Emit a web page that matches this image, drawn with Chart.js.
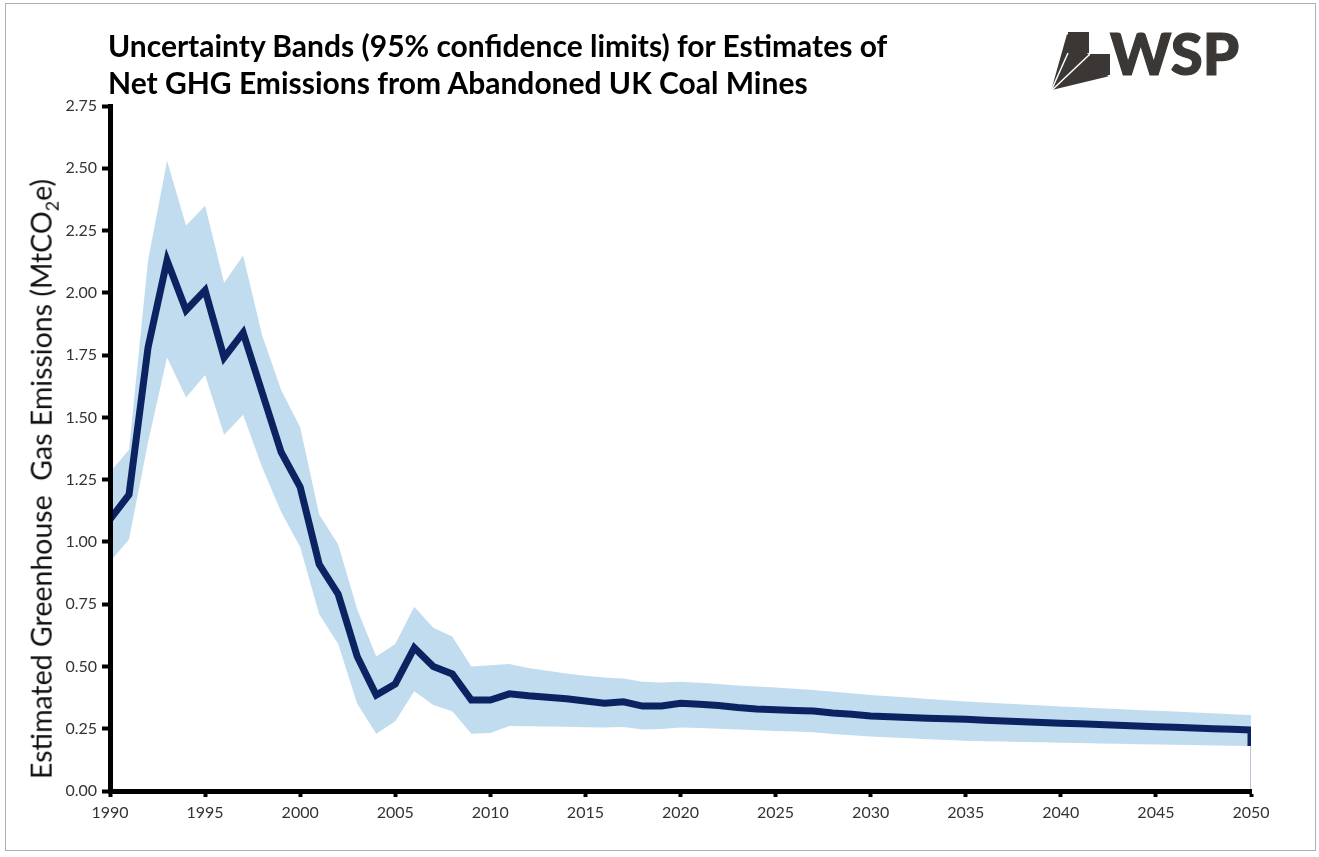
<!DOCTYPE html>
<html>
<head>
<meta charset="utf-8">
<script src="https://cdn.jsdelivr.net/npm/chart.js@4"></script>
<style>
  body { margin: 0; background: #fff; }
  #wrap { position: relative; width: 1319px; height: 857px; overflow: hidden; }
  #frame { position: absolute; left: 5px; top: 3px; width: 1311px; height: 848px; border: 1px solid #b0b0b0; box-sizing: border-box; }
  #titulo { position: absolute; left: 108px; top: 27px; font-family: Lato, sans-serif; font-weight: bold; font-size: 30px; line-height: 37px; color: #000; white-space: nowrap; }
  #ytitulo { position: absolute; left: 43px; top: 479px; font-family: Lato, sans-serif; font-size: 28.5px; color: #111; white-space: nowrap; transform: translate(-50%, -50%) rotate(-90deg); }
  #ytitulo sub { font-size: 18px; }
  #logo { position: absolute; left: 1045px; top: 25px; }
  canvas { position: absolute; left: 0; top: 0; }
</style>
</head>
<body>
<div id="wrap">
  <div id="frame"></div>
  <canvas id="grafico" width="1319" height="857"></canvas>
  <div id="titulo">Uncertainty Bands (95% confidence limits) for Estimates of<br>Net GHG Emissions from Abandoned UK Coal Mines</div>
  <div id="ytitulo">Estimated Greenhouse&nbsp; Gas Emissions (MtCO<sub>2</sub>e)</div>
  <svg id="logo" width="200" height="70" viewBox="0 0 200 70">
    <polygon points="22,9 44,30 64,52 6,66" fill="#3b3735"/>
    <line x1="6" y1="66" x2="44" y2="30" stroke="#fff" stroke-width="1.5"/>
    <line x1="6" y1="66" x2="64" y2="52" stroke="#fff" stroke-width="1.5"/>
    <line x1="6" y1="66" x2="23" y2="28" stroke="#fff" stroke-width="1.5"/>
    <rect x="23" y="7" width="21" height="21" fill="#3b3735"/>
    <rect x="45" y="29" width="20" height="21" fill="#3b3735"/>
    <text x="65" y="50" font-family="Lato, sans-serif" font-weight="900" font-size="58" fill="#3b3735" stroke="#3b3735" stroke-width="1.2">WSP</text>
  </svg>
</div>
<script>
const anos = [];
for (let a = 1990; a <= 2050; a++) anos.push(a);

const central = [1.09, 1.19, 1.78, 2.13, 1.93, 2.01, 1.74, 1.84, 1.60, 1.36,
  1.22, 0.91, 0.79, 0.54, 0.385, 0.43, 0.575, 0.50, 0.47, 0.365,
  0.365, 0.39, 0.382, 0.376, 0.37, 0.361, 0.352, 0.358, 0.341, 0.341,
  0.352, 0.348, 0.343, 0.335, 0.329, 0.326, 0.323, 0.321, 0.313, 0.308,
  0.301, 0.298, 0.295, 0.292, 0.290, 0.288, 0.284, 0.281, 0.278, 0.275,
  0.272, 0.270, 0.267, 0.264, 0.261, 0.258, 0.256, 0.253, 0.250, 0.248,
  0.245];

const superior = [1.28, 1.37, 2.13, 2.53, 2.27, 2.35, 2.04, 2.15, 1.83, 1.61,
  1.46, 1.11, 0.99, 0.73, 0.54, 0.59, 0.74, 0.655, 0.62, 0.50,
  0.505, 0.51, 0.494, 0.483, 0.472, 0.463, 0.456, 0.452, 0.439, 0.436,
  0.439, 0.435, 0.430, 0.424, 0.420, 0.416, 0.410, 0.405, 0.398, 0.392,
  0.385, 0.380, 0.375, 0.369, 0.364, 0.359, 0.355, 0.351, 0.347, 0.343,
  0.339, 0.336, 0.332, 0.329, 0.325, 0.322, 0.319, 0.315, 0.312, 0.308,
  0.305];

const inferior = [0.92, 1.01, 1.40, 1.74, 1.58, 1.67, 1.43, 1.51, 1.30, 1.12,
  0.98, 0.71, 0.59, 0.35, 0.23, 0.28, 0.40, 0.345, 0.32, 0.23,
  0.233, 0.261, 0.260, 0.259, 0.258, 0.256, 0.255, 0.257, 0.247, 0.249,
  0.255, 0.253, 0.250, 0.247, 0.244, 0.241, 0.239, 0.236, 0.229, 0.224,
  0.219, 0.215, 0.212, 0.208, 0.205, 0.202, 0.200, 0.199, 0.197, 0.196,
  0.194, 0.193, 0.191, 0.190, 0.188, 0.187, 0.186, 0.185, 0.183, 0.182,
  0.181];

// the central line drops to the lower limit at the last year
const quedaFinal = 0.181;

const yTicks = [0, 0.25, 0.5, 0.75, 1, 1.25, 1.5, 1.75, 2, 2.25, 2.5, 2.75];

const pontos = (arr) => arr.map((v, i) => ({ x: anos[i], y: v }));
const linha = pontos(central);
linha.push({ x: 2050, y: quedaFinal });
const ultimoAno = anos[anos.length - 1];

const fonteTicks = { family: 'Lato, sans-serif', size: 16 };

const ctx = document.getElementById('grafico').getContext('2d');
new Chart(ctx, {
  type: 'line',
  data: {
    datasets: [
      {
        label: 'Central estimate',
        data: linha,
        borderColor: '#0b2461',
        borderWidth: 7,
        pointRadius: 0,
        tension: 0,
        fill: false,
        order: 0
      },
      {
        label: 'Upper limit',
        data: pontos(superior),
        borderWidth: 0,
        borderColor: 'rgba(0,0,0,0)',
        backgroundColor: '#c2dcef',
        pointRadius: 0,
        tension: 0,
        fill: '+1',
        order: 2
      },
      {
        label: 'Lower limit',
        data: pontos(inferior),
        borderWidth: 0,
        borderColor: 'rgba(0,0,0,0)',
        pointRadius: 0,
        tension: 0,
        fill: false,
        order: 3
      },
      {
        label: 'edge',
        data: [{ x: ultimoAno, y: inferior[inferior.length - 1] }, { x: ultimoAno, y: 0 }],
        borderColor: '#9fb0d0',
        borderWidth: 1.5,
        pointRadius: 0,
        fill: false,
        order: 1
      }
    ]
  },
  options: {
    responsive: false,
    animation: false,
    layout: { padding: { left: 0, top: 106, right: 68, bottom: 36 } },
    plugins: { legend: { display: false }, tooltip: { enabled: false }, title: { display: false } },
    scales: {
      x: {
        type: 'linear',
        min: 1990,
        max: 2050,
        afterFit: (s) => { s.height = 30; },
        grid: { z: 1, drawOnChartArea: false, drawTicks: true, tickLength: 6, tickWidth: 4, tickColor: '#000' },
        border: { z: 1, display: true, width: 5, color: '#000' },
        ticks: { stepSize: 5, padding: 6, color: '#333', font: fonteTicks, callback: (v) => String(v) }
      },
      y: {
        min: 0,
        max: 2.75,
        afterFit: (s) => { s.width = 110; },
        afterBuildTicks: (s) => { s.ticks = yTicks.map(v => ({ value: v })); },
        grid: { z: 1, drawOnChartArea: false, drawTicks: true, tickLength: 8, tickWidth: 4, tickColor: '#000' },
        border: { z: 1, display: true, width: 5, color: '#000' },
        ticks: { padding: 5, color: '#333', font: fonteTicks, callback: (v) => v.toFixed(2) }
      }
    }
  }
});
</script>
</body>
</html>
